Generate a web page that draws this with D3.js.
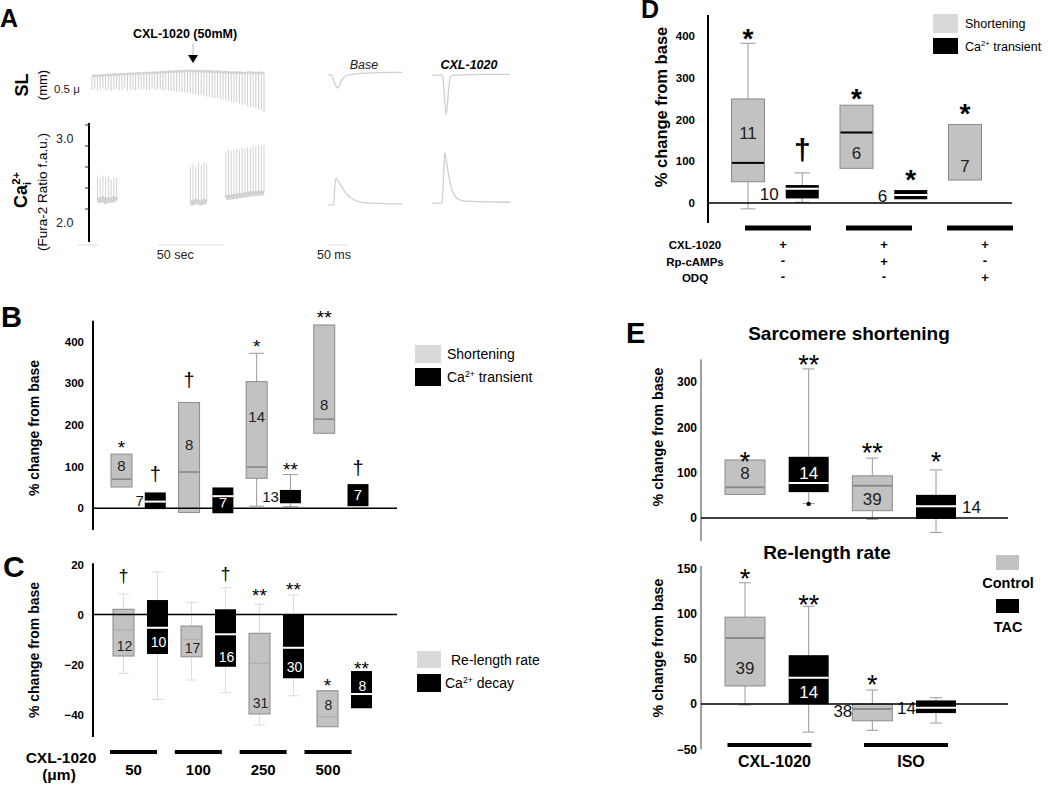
<!DOCTYPE html>
<html><head><meta charset="utf-8">
<script src="https://d3js.org/d3.v7.min.js"></script>
<style>html,body{margin:0;padding:0;background:#fff}svg{display:block}</style>
</head><body>
<svg id="fig" width="1050" height="786" xmlns="http://www.w3.org/2000/svg"></svg>
<script>
// ================= DATA =================
// ---- Panel A : raw recordings (sarcomere length, relative units; Ca2+ Fura-2 ratio) ----
const slBeatTop = [-0.10,-0.09,-0.10,-0.08,-0.09,-0.08,-0.07,-0.08,-0.06,-0.07,-0.06,-0.05,-0.06,-0.05,-0.04,-0.05,
  -0.04,-0.03,-0.04,-0.03,-0.02,-0.03,-0.02,-0.01,-0.02,-0.01,0.00,-0.01,0.01,0.00,0.01,0.02,
  0.01,0.02,0.03,0.02,0.03,0.02,0.03,0.02,0.03,0.01,0.02,0.01,0.02,0.00,0.01,0.00,
  -0.01,0.00,-0.01,-0.02,-0.01,-0.02,-0.01,-0.02,-0.03,-0.02,-0.01,-0.02,-0.03,-0.02,-0.02,-0.03];
const slBeatBottom = [-0.45,-0.42,-0.47,-0.44,-0.41,-0.46,-0.43,-0.48,-0.44,-0.42,-0.46,-0.45,-0.41,-0.47,-0.43,-0.44,
  -0.46,-0.42,-0.45,-0.43,-0.47,-0.44,-0.42,-0.46,-0.44,-0.43,-0.47,-0.45,-0.46,-0.48,-0.47,-0.50,
  -0.49,-0.52,-0.51,-0.54,-0.53,-0.56,-0.55,-0.58,-0.57,-0.60,-0.62,-0.61,-0.64,-0.66,-0.65,-0.68,
  -0.70,-0.72,-0.71,-0.75,-0.77,-0.76,-0.80,-0.82,-0.81,-0.85,-0.87,-0.88,-0.91,-0.93,-0.96,-1.00];
const caSeg1Beat = [2,3,4,5,6,7,8,9];
const caSeg1Peak = [2.38,2.36,2.40,2.37,2.39,2.35,2.38,2.37];
const caSeg1Base = [2.11,2.10,2.12,2.09,2.11,2.10,2.12,2.10];
const caSeg2Beat = [36,37,38,39,40,41,42];
const caSeg2Peak = [2.50,2.53,2.51,2.55,2.52,2.56,2.54];
const caSeg2Base = [2.08,2.07,2.09,2.08,2.07,2.09,2.08];
const caSeg3Beat = [49,50,51,52,53,54,55,56,57,58,59,60,61,62,63];
const caSeg3Peak = [2.68,2.70,2.69,2.71,2.72,2.70,2.73,2.72,2.74,2.73,2.75,2.74,2.76,2.75,2.76];
const caSeg3Base = [2.13,2.14,2.14,2.15,2.15,2.16,2.16,2.17,2.17,2.18,2.18,2.18,2.19,2.19,2.19];
const caAxisTicks = [2.0,2.25,2.5,2.75,3.0];
const caAxisLabels = [["3.0",3.0],["2.0",2.0]];
const baseSlTime = [0,8,12,16,20,25,29,33,38,45,55,70,90,120,150,185];
const baseSlVal  = [-0.07,-0.07,-0.14,-0.27,-0.36,-0.40,-0.33,-0.23,-0.15,-0.10,-0.07,-0.05,-0.03,-0.02,-0.01,-0.01];
const cxlSlTime = [0,25,28,31,34,36,38,41,44,47,55,80,120,195];
const cxlSlVal  = [-0.08,-0.08,-0.22,-0.60,-0.97,-1.05,-0.90,-0.50,-0.22,-0.11,-0.08,-0.07,-0.06,-0.06];
const baseCaTime = [0,14,17,20,23,30,40,50,65,85,110,140,185];
const baseCaVal  = [2.05,2.05,2.25,2.37,2.35,2.30,2.22,2.16,2.11,2.08,2.07,2.065,2.06];
const cxlCaTime = [0,25,29,32,35,40,46,52,60,75,100,140,195];
const cxlCaVal  = [2.07,2.07,2.40,2.67,2.60,2.45,2.30,2.20,2.14,2.10,2.09,2.085,2.08];

// ---- Panel B : shortening / Ca transient, % change from base ----
const bCats = ["50-S","50-C","100-S","100-C","250-S","250-C","500-S","500-C"];
const bKind = ["g","k","g","k","g","k","g","k"];
const bQ1  = [51,-2,-10,-12,72,12,180,5];
const bMed = [70,16,87,29,99,null,214,null];
const bQ3  = [130,38,254,50,304,44,440,58];
const bWLo = [null,null,null,null,5,4,null,null];
const bWHi = [null,null,null,null,372,81,null,null];
const bN   = ["8","7","8","7","14","13","8","7"];
const bNAt = [102,18,154,13,220,28,248,32];
const bNPos= ["in","left","in","in","in","left","in","in"];
const bSig = ["*","†","†","","*","**","**","†"];
const bSigAt=[157,80,306,null,400,104,469,94];
const bTicks = [0,100,200,300,400];
const bLegend = ["Shortening","Ca{^2+} transient"];

// ---- Panel C : re-length rate / Ca decay ----
const cCats = ["50-R","50-D","100-R","100-D","250-R","250-D","500-R","500-D"];
const cKind = ["g","k","g","k","g","k","g","k"];
const cQ1  = [-16.6,-15.8,-16.9,-20.9,-39.8,-25.5,-44.9,-37.5];
const cMed = [-6.2,-5.3,-9.9,-7.9,-19.5,-13.3,-40.9,-31.8];
const cQ3  = [2.1,5.8,-4.6,2.1,-7.5,0.2,-30.5,-22.6];
const cWLo = [-23.5,-34,-26.2,-31.3,-44.2,-32.5,null,null];
const cWHi = [8.2,17,4.9,10.7,4.1,7.8,null,null];
const cN   = ["12","10","17","16","31","30","8","8"];
const cNAt = [-12.4,-10.9,-13.4,-16.9,-35.3,-20.9,-36,-28.5];
const cNPos= ["in","in","in","in","in","in","in","in"];
const cSig = ["†","","","†","**","**","*","**"];
const cSigAt=[15,null,null,16,9.4,12,-26.6,-19.8];
const cTicks = [-40,-20,0,20];
const cGroups = ["50","100","250","500"];
const cLegend = ["Re-length rate","Ca{^2+}  decay"];

// ---- Panel D : inhibitors ----
const dCats = ["CXL-S","CXL-C","Rp-S","Rp-C","ODQ-S"];
const dKind = ["g","k","g","k","g"];
const dQ1  = [51,11,83,9,55];
const dMed = [96,34,169,19,null];
const dQ3  = [249,43,234,31,188];
const dWLo = [-14,2,null,null,null];
const dWHi = [382,72,null,null,null];
const dN   = ["11","10","6","6","7"];
const dNAt = [167,21,119,17,89];
const dNPos= ["in","left","in","left","in"];
const dSig = ["*","†","*","*","*"];
const dSigAt=[409,124,266,72,230];
const dTicks = [0,100,200,300,400];
const dGroups = ["g1","g2","g3"];
const dRowNames = ["CXL-1020","Rp-cAMPs","ODQ"];
const dRowCxl = ["+","+","+"];
const dRowRp  = ["-","+","-"];
const dRowOdq = ["-","-","+"];
const dLegend = ["Shortening","Ca{^2+} transient"];

// ---- Panel E : Control vs TAC ----
const eCats = ["CXL-Control","CXL-TAC","ISO-Control","ISO-TAC"];
const eKind = ["g","k","g","k"];
const e1Q1  = [52,57,16,-2];
const e1Med = [68,77,71,26];
const e1Q3  = [128,135,93,51];
const e1WLo = [null,32,-3,-32];
const e1WHi = [null,329,132,106];
const e1Dot = [null,31,null,null];
const e1N   = ["8","14","39","14"];
const e1NAt = [99,100,41,24];
const e1NPos= ["in","in","in","right"];
const e1Sig = ["*","**","**","*"];
const e1SigAt=[139,353,159,139];
const e1Ticks = [0,100,200,300];
const e2Q1  = [20,0,-18.5,-10];
const e2Med = [73,29,-5.5,-4];
const e2Q3  = [96,54,0,4];
const e2WLo = [-1,-31,-29,-21];
const e2WHi = [134,108,15.5,7];
const e2N   = ["39","14","38","14"];
const e2NAt = [40,14,-8,-4.5];
const e2NPos= ["in","in","left","left"];
const e2Sig = ["*","**","*",""];
const e2SigAt=[146,117,28,null];
const e2Ticks = [-50,0,50,100,150];
const eGroups = ["CXL-1020","ISO"];
const eLegend = ["Control","TAC"];

// ================= DRAWING =================
const FONT = '"Liberation Sans", Arial, Helvetica, sans-serif';
const svg = d3.select("#fig").style("font-family", FONT);
const GRAY = "#c2c2c2", GRAYSTROKE = "#8a8a8a", LEG_GRAY = "#d9d9d9";

function rich(t, str, fs, supDx) {
  const parts = str.split(/(\{[\^_][^}]*\})/).filter(s => s.length);
  let cur = 0;
  parts.forEach(p => {
    let target = 0, txt = p, size = null, dx = 0;
    if (p[0] === "{") {
      target = p[1] === "^" ? -0.38 * fs : 0.22 * fs;
      txt = p.slice(2, -1); size = 0.62 * fs;
      if (p[1] === "^" && supDx) dx = supDx;
    }
    const ts = t.append("tspan").attr("dy", target - cur).text(txt);
    if (dx) ts.attr("dx", dx);
    if (size) ts.attr("font-size", size);
    cur = target;
  });
  return t;
}
function txt(g, x, y, s, o = {}) {
  const t = g.append("text").attr("x", x).attr("y", y)
    .attr("font-size", o.size || 12).attr("font-weight", o.weight || "normal")
    .attr("font-style", o.style || "normal")
    .attr("text-anchor", o.anchor || "start").attr("fill", o.fill || "#000");
  if (o.rich) rich(t, s, o.size || 12, o.supDx); else t.text(s);
  return t;
}
function vtxt(g, cx, cy, s, o = {}) {
  const t = g.append("text").attr("transform", `translate(${cx},${cy}) rotate(-90)`)
    .attr("font-size", o.size || 12).attr("font-weight", o.weight || "normal")
    .attr("text-anchor", "middle").attr("fill", o.fill || "#000");
  if (o.rich) rich(t, s, o.size || 12, o.supDx); else t.text(s);
  return t;
}
function sigMark(g, cx, yc, s, starSize, dagSize, weight) {
  if (!s) return;
  if (s === "†") txt(g, cx, yc + 0.3 * dagSize, s, {size: dagSize, anchor: "middle", weight: weight || "normal"});
  else txt(g, cx, yc + 0.58 * starSize, s, {size: starSize, anchor: "middle", weight: weight || "normal"});
}

function yAxis(g, y, ticks, ax, o) {
  g.append("line").attr("x1", ax).attr("x2", ax).attr("y1", o.top).attr("y2", o.bottom)
    .attr("stroke", o.axisColor || "#000").attr("stroke-width", o.axisW || 2);
  const a = g.append("g").attr("transform", `translate(${ax},0)`)
    .call(d3.axisLeft(y).tickValues(ticks).tickSize(o.tickSize || 0).tickPadding(o.pad));
  a.select(".domain").remove();
  a.selectAll(".tick line").attr("stroke", o.axisColor || "#000");
  a.selectAll("text").attr("font-size", o.fs).attr("font-weight", "bold")
    .attr("font-family", FONT).attr("fill", "#000");
}

function boxes(g, o) {
  const {x, y, cats, kind, q1, med, q3, wlo, whi, bw, cap} = o;
  // whiskers
  cats.forEach((c, i) => {
    const cx = x(c);
    if (whi[i] != null) {
      g.append("line").attr("x1", cx).attr("x2", cx).attr("y1", y(q3[i])).attr("y2", y(whi[i]))
        .attr("stroke", o.wColor).attr("stroke-width", 1);
      g.append("line").attr("x1", cx - cap / 2).attr("x2", cx + cap / 2).attr("y1", y(whi[i])).attr("y2", y(whi[i]))
        .attr("stroke", o.wColor).attr("stroke-width", 1);
    }
    if (wlo[i] != null) {
      g.append("line").attr("x1", cx).attr("x2", cx).attr("y1", y(q1[i])).attr("y2", y(wlo[i]))
        .attr("stroke", o.wColor).attr("stroke-width", 1);
      g.append("line").attr("x1", cx - cap / 2).attr("x2", cx + cap / 2).attr("y1", y(wlo[i])).attr("y2", y(wlo[i]))
        .attr("stroke", o.wColor).attr("stroke-width", 1);
    }
    if (o.dot && o.dot[i] != null)
      g.append("circle").attr("cx", cx).attr("cy", y(o.dot[i])).attr("r", 2.2).attr("fill", "#000");
  });
  // boxes
  cats.forEach((c, i) => {
    const cx = x(c), k = kind[i];
    g.append("rect").attr("x", cx - bw / 2).attr("y", y(q3[i])).attr("width", bw)
      .attr("height", y(q1[i]) - y(q3[i]))
      .attr("fill", k === "g" ? GRAY : "#000")
      .attr("stroke", k === "g" ? GRAYSTROKE : "none").attr("stroke-width", 1);
    if (med[i] != null) {
      g.append("line").attr("x1", cx - bw / 2 + (k === "g" ? 0.5 : 0)).attr("x2", cx + bw / 2 - (k === "g" ? 0.5 : 0))
        .attr("y1", y(med[i])).attr("y2", y(med[i]))
        .attr("stroke", k === "g" ? o.medGray : "#fff")
        .attr("stroke-width", k === "g" ? o.medGrayW : 2);
    }
  });
  // n labels
  cats.forEach((c, i) => {
    const cx = x(c), k = kind[i], pos = o.nPos[i];
    const yy = y(o.nAt[i]) + 0.36 * o.nSize;
    if (pos === "in") txt(g, cx + (o.nDx || 0), yy, o.n[i], {size: o.nSize, anchor: "middle", fill: k === "g" ? "#222" : "#fff"});
    else if (pos === "left") txt(g, cx - bw / 2 + (o.leftGap || 0), yy, o.n[i], {size: o.nSize, anchor: "end", fill: "#111"});
    else txt(g, cx + bw / 2 + (o.rightGap || 5), yy, o.n[i], {size: o.nSize, anchor: "start", fill: "#111"});
  });
  // significance marks
  cats.forEach((c, i) => {
    if (o.sig[i]) sigMark(g, x(c), y(o.sigAt[i]), o.sig[i], o.starSize, o.dagSize, o.dagWeight);
  });
}

function legendBox(g, x, y, w, h, fill) {
  g.append("rect").attr("x", x).attr("y", y).attr("width", w).attr("height", h).attr("fill", fill);
}

// ---------------- Panel A ----------------
{
  const g = svg.append("g");
  txt(g, 0, 27, "A", {size: 25, weight: "bold"});
  txt(g, 185, 38, "CXL-1020 (50mM)", {size: 12.5, weight: "bold", anchor: "middle"});
  g.append("line").attr("x1", 193).attr("x2", 193).attr("y1", 43).attr("y2", 55).attr("stroke", "#bbb");
  g.append("path").attr("d", "M188,55 L198,55 L193,63 Z").attr("fill", "#000");

  const xBeat = d3.scaleLinear([0, slBeatTop.length - 1], [92, 264]);
  const ySL = d3.scaleLinear([-1, 0], [112, 72]);
  const yCa = d3.scaleLinear([1.6, 3.02], [242.6, 123.3]);
  const xSec = d3.scaleLinear([0, 130], [92, 264]);

  // SL comb
  const comb = g.append("g").attr("stroke", "#cdcdcd").attr("stroke-width", 1);
  slBeatTop.forEach((v, i) => {
    comb.append("line").attr("x1", xBeat(i)).attr("x2", xBeat(i))
      .attr("y1", ySL(v)).attr("y2", ySL(slBeatBottom[i]));
  });
  g.append("path").attr("d", d3.line().x((d, i) => xBeat(i)).y(d => ySL(d))(slBeatTop))
    .attr("fill", "none").attr("stroke", "#d4d4d4").attr("stroke-width", 2.5);

  // SL labels
  vtxt(g, 28, 85, "SL", {size: 18, weight: "bold"});
  vtxt(g, 47, 85, "(mm)", {size: 13});
  txt(g, 54, 93, "0.5 \u03bc", {size: 11.5, fill: "#222"});

  // Ca axis
  g.append("line").attr("x1", 89).attr("x2", 89).attr("y1", 123).attr("y2", 242).attr("stroke", "#000").attr("stroke-width", 2);
  caAxisTicks.forEach(t => g.append("line").attr("x1", 85).attr("x2", 89).attr("y1", yCa(t)).attr("y2", yCa(t)).attr("stroke", "#333").attr("stroke-width", 1));
  caAxisLabels.forEach(([s, v]) => txt(g, 56, yCa(v) + 18, s, {size: 12.5, fill: "#222"}));
  vtxt(g, 27, 190, "Ca{_i}{^2+}", {size: 18, weight: "bold", rich: true, supDx: -3});
  vtxt(g, 47, 192, "(Fura-2 Ratio f.a.u.)", {size: 13.5});

  // Ca segments
  [[caSeg1Beat, caSeg1Peak, caSeg1Base], [caSeg2Beat, caSeg2Peak, caSeg2Base], [caSeg3Beat, caSeg3Peak, caSeg3Base]]
    .forEach(([b, p, base]) => {
      b.forEach((bi, j) => {
        g.append("line").attr("x1", xBeat(bi)).attr("x2", xBeat(bi)).attr("y1", yCa(base[j])).attr("y2", yCa(p[j]))
          .attr("stroke", "#d2d2d2").attr("stroke-width", 1);
      });
      g.append("path").attr("d", d3.line().x((d, j) => xBeat(b[j])).y(d => yCa(d))(base))
        .attr("fill", "none").attr("stroke", "#c9c9c9").attr("stroke-width", 5).attr("stroke-opacity", 0.8);
    });

  // time scale bar + bottom line
  g.append("line").attr("x1", 78).attr("x2", 98).attr("y1", 245).attr("y2", 245).attr("stroke", "#ddd");
  g.append("line").attr("x1", xSec(50)).attr("x2", xSec(100)).attr("y1", 245).attr("y2", 245).attr("stroke", "#ddd");
  txt(g, (xSec(50) + xSec(100)) / 2 - 16, 259, "50 sec", {size: 12.5, anchor: "middle", fill: "#222"});

  // single-beat traces
  const xBase = d3.scaleLinear([0, 185], [328, 402]);
  const xCxl = d3.scaleLinear([0, 195], [432, 510]);
  const ln = (xs, t, v, ys) => d3.line().x((d, i) => xs(t[i])).y((d, i) => ys(v[i])).curve(d3.curveMonotoneX)(t);
  g.append("path").attr("d", ln(xBase, baseSlTime, baseSlVal, ySL)).attr("fill", "none").attr("stroke", "#cfcfcf").attr("stroke-width", 1.3);
  g.append("path").attr("d", ln(xCxl, cxlSlTime, cxlSlVal, ySL)).attr("fill", "none").attr("stroke", "#cfcfcf").attr("stroke-width", 1.3);
  g.append("path").attr("d", ln(xBase, baseCaTime, baseCaVal, yCa)).attr("fill", "none").attr("stroke", "#cfcfcf").attr("stroke-width", 1.3);
  g.append("path").attr("d", ln(xCxl, cxlCaTime, cxlCaVal, yCa)).attr("fill", "none").attr("stroke", "#cfcfcf").attr("stroke-width", 1.3);
  txt(g, 364, 69, "Base", {size: 12.5, style: "italic", anchor: "middle", fill: "#222"});
  txt(g, 469, 69, "CXL-1020", {size: 12.5, style: "italic", weight: "bold", anchor: "middle"});
  g.append("line").attr("x1", xBase(0)).attr("x2", xBase(50)).attr("y1", 245).attr("y2", 245).attr("stroke", "#ddd");
  txt(g, 334, 259, "50 ms", {size: 12.5, anchor: "middle", fill: "#222"});
}

// ---------------- Panel B ----------------
{
  const g = svg.append("g");
  txt(g, 1, 327, "B", {size: 29, weight: "bold"});
  const y = d3.scaleLinear([-50, 450], [529.1, 320.8]);
  const x = d3.scalePoint(bCats, [121.5, 358]);
  yAxis(g, y, bTicks, 93, {top: 320.8, bottom: 530, pad: 9, fs: 11.5});
  vtxt(g, 39, 428, "% change from base", {size: 14, weight: "bold"});
  boxes(g, {x, y, cats: bCats, kind: bKind, q1: bQ1, med: bMed, q3: bQ3, wlo: bWLo, whi: bWHi, bw: 21, cap: 15,
    wColor: "#9a9a9a", medGray: "#7a7a7a", medGrayW: 1.3, n: bN, nAt: bNAt, nPos: bNPos, nSize: 15, leftGap: -1,
    sig: bSig, sigAt: bSigAt, starSize: 19, dagSize: 20});
  g.append("line").attr("x1", 93).attr("x2", 397).attr("y1", y(0)).attr("y2", y(0)).attr("stroke", "#000").attr("stroke-width", 1.5);
  legendBox(g, 415, 345, 26, 18, LEG_GRAY);
  legendBox(g, 415, 368, 26, 18, "#000");
  txt(g, 447, 359, bLegend[0], {size: 14});
  txt(g, 447, 382, bLegend[1], {size: 14, rich: true});
}

// ---------------- Panel C ----------------
{
  const g = svg.append("g");
  txt(g, 3, 577, "C", {size: 30, weight: "bold"});
  const y = d3.scaleLinear([-49, 20.5], [737, 563.3]);
  const x = d3.scalePoint(cCats, [123.5, 361.5]);
  yAxis(g, y, cTicks, 93, {top: 563.3, bottom: 737, pad: 9, fs: 11.5});
  vtxt(g, 39, 650, "% change from base", {size: 14, weight: "bold"});
  boxes(g, {x, y, cats: cCats, kind: cKind, q1: cQ1, med: cMed, q3: cQ3, wlo: cWLo, whi: cWHi, bw: 21, cap: 11,
    wColor: "#dcdcdc", medGray: "#acacac", medGrayW: 1, n: cN, nAt: cNAt, nPos: cNPos, nSize: 14, nDx: 1,
    sig: cSig, sigAt: cSigAt, starSize: 19, dagSize: 18});
  g.append("line").attr("x1", 93).attr("x2", 397).attr("y1", y(0)).attr("y2", y(0)).attr("stroke", "#000").attr("stroke-width", 1.5);
  const xg = d3.scalePoint(cGroups, [133.5, 328]);
  cGroups.forEach(c => {
    g.append("line").attr("x1", xg(c) - 23.5).attr("x2", xg(c) + 23.5).attr("y1", 752).attr("y2", 752).attr("stroke", "#000").attr("stroke-width", 4);
    txt(g, xg(c), 775, c, {size: 15, weight: "bold", anchor: "middle"});
  });
  txt(g, 61, 763, "CXL-1020", {size: 15.5, weight: "bold", anchor: "middle"});
  txt(g, 59, 780, "(\u03bcm)", {size: 15.5, weight: "bold", anchor: "middle"});
  legendBox(g, 417, 651, 24, 17, LEG_GRAY);
  legendBox(g, 417, 674, 24, 18, "#000");
  txt(g, 451, 665, cLegend[0], {size: 14});
  txt(g, 445, 688, cLegend[1], {size: 14, rich: true});
}

// ---------------- Panel D ----------------
{
  const g = svg.append("g");
  txt(g, 641, 18, "D", {size: 25, weight: "bold"});
  const y = d3.scaleLinear([-48, 450], [223.1, 14.9]);
  const x = d3.scalePoint(dCats, [748, 965]);
  yAxis(g, y, dTicks, 708, {top: 14.9, bottom: 223.1, pad: 13, fs: 11.5});
  vtxt(g, 667, 107, "% change from base", {size: 16.5, weight: "bold"});
  boxes(g, {x, y, cats: dCats, kind: dKind, q1: dQ1, med: dMed, q3: dQ3, wlo: dWLo, whi: dWHi, bw: 33, cap: 15,
    wColor: "#9a9a9a", medGray: "#000", medGrayW: 2, n: dN, nAt: dNAt, nPos: dNPos, nSize: 17, leftGap: -7,
    sig: dSig, sigAt: dSigAt, starSize: 28, dagSize: 30, dagWeight: "bold"});
  g.append("line").attr("x1", 708).attr("x2", 1012).attr("y1", y(0)).attr("y2", y(0)).attr("stroke", "#000").attr("stroke-width", 1.5);
  const xg = d3.scalePoint(dGroups, [778, 980]);
  dGroups.forEach(c => g.append("line").attr("x1", xg(c) - 33).attr("x2", xg(c) + 33).attr("y1", 228).attr("y2", 228).attr("stroke", "#000").attr("stroke-width", 5));
  const rowsY = [249, 266, 282];
  [dRowCxl, dRowRp, dRowOdq].forEach((row, r) => {
    txt(g, 695, rowsY[r], dRowNames[r], {size: 11.5, weight: "bold", anchor: "middle"});
    row.forEach((s, j) => txt(g, xg(dGroups[j]) + 5, rowsY[r] + (s === "-" ? -1 : 0), s, {size: 13, weight: "bold", anchor: "middle"}));
  });
  legendBox(g, 933, 14, 25, 19, LEG_GRAY);
  legendBox(g, 933, 38, 25, 16, "#000");
  txt(g, 965, 28, dLegend[0], {size: 12.5});
  txt(g, 965, 51, dLegend[1], {size: 12.5, rich: true});
}

// ---------------- Panel E ----------------
{
  const g = svg.append("g");
  txt(g, 626, 343, "E", {size: 29, weight: "bold"});
  txt(g, 849, 340, "Sarcomere shortening", {size: 19, weight: "bold", anchor: "middle"});
  txt(g, 827, 559, "Re-length rate", {size: 19, weight: "bold", anchor: "middle"});
  const x = d3.scalePoint(eCats, [745, 936]);
  // top
  const y1 = d3.scaleLinear([-50, 350], [540.6, 359.4]);
  yAxis(g, y1, e1Ticks, 701, {top: 359.4, bottom: 541, pad: 4, fs: 12, axisW: 1, axisColor: "#444"});
  vtxt(g, 663, 437, "% change from base", {size: 14.3, weight: "bold"});
  boxes(g, {x, y: y1, cats: eCats, kind: eKind, q1: e1Q1, med: e1Med, q3: e1Q3, wlo: e1WLo, whi: e1WHi, dot: e1Dot, bw: 40, cap: 12,
    wColor: "#9a9a9a", medGray: "#8a8a8a", medGrayW: 2, n: e1N, nAt: e1NAt, nPos: e1NPos, nSize: 17, rightGap: 6,
    sig: e1Sig, sigAt: e1SigAt, starSize: 27, dagSize: 22});
  g.append("line").attr("x1", 701).attr("x2", 1008).attr("y1", y1(0)).attr("y2", y1(0)).attr("stroke", "#000").attr("stroke-width", 1.5);
  // bottom
  const y2 = d3.scaleLinear([-50, 150], [749.3, 568.3]);
  yAxis(g, y2, e2Ticks, 701, {top: 566, bottom: 749.3, pad: 4, fs: 12, axisW: 1, axisColor: "#444"});
  vtxt(g, 663, 648, "% change from base", {size: 14.3, weight: "bold"});
  boxes(g, {x, y: y2, cats: eCats, kind: eKind, q1: e2Q1, med: e2Med, q3: e2Q3, wlo: e2WLo, whi: e2WHi, bw: 40, cap: 12,
    wColor: "#9a9a9a", medGray: "#8a8a8a", medGrayW: 2, n: e2N, nAt: e2NAt, nPos: e2NPos, nSize: 17, leftGap: 0,
    sig: e2Sig, sigAt: e2SigAt, starSize: 27, dagSize: 22});
  g.append("line").attr("x1", 701).attr("x2", 1008).attr("y1", y2(0)).attr("y2", y2(0)).attr("stroke", "#000").attr("stroke-width", 1.5);
  const xg = d3.scalePoint(eGroups, [769.5, 906]);
  eGroups.forEach(c => {
    g.append("line").attr("x1", xg(c) - 42).attr("x2", xg(c) + 42).attr("y1", 745).attr("y2", 745).attr("stroke", "#000").attr("stroke-width", 4);
    txt(g, xg(c) + 5, 767, c, {size: 16, weight: "bold", anchor: "middle"});
  });
  legendBox(g, 996, 555, 23, 15, GRAY);
  legendBox(g, 996, 599, 23, 14, "#000");
  txt(g, 1008, 588, eLegend[0], {size: 14.5, weight: "bold", anchor: "middle"});
  txt(g, 1008, 632, eLegend[1], {size: 14.5, weight: "bold", anchor: "middle"});
}
</script>
</body></html>
